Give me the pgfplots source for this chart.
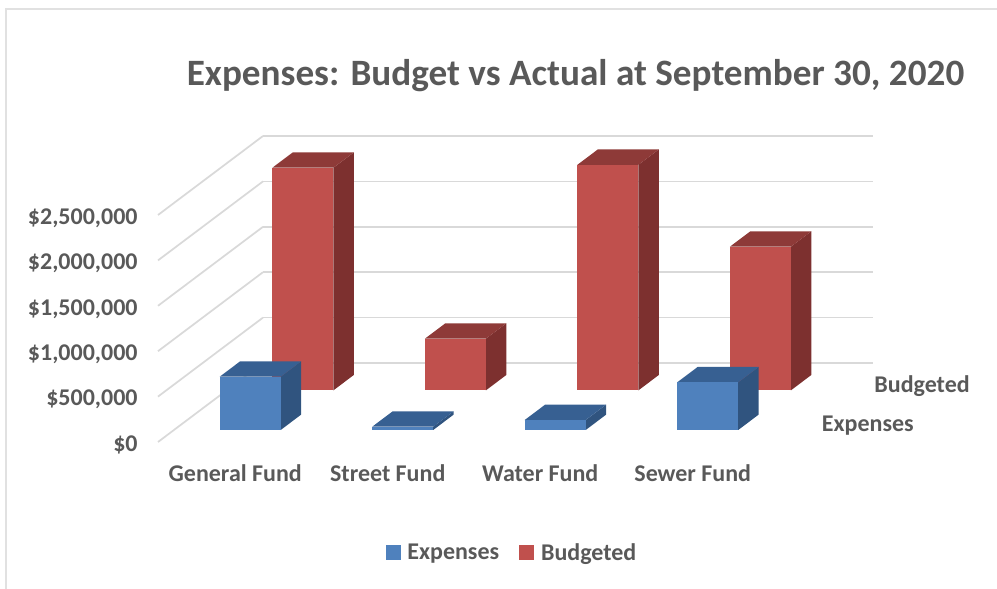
\documentclass[border=0pt]{standalone}
\usepackage{pgfplots}
\pgfplotsset{compat=1.18}
\usepackage{fontspec}
\setmainfont{Carlito}[BoldFont=Carlito Bold]
\definecolor{txt}{HTML}{595959}
\definecolor{gridc}{HTML}{D9D9D9}
\definecolor{bluef}{HTML}{4F81BD}
\definecolor{bluet}{HTML}{376092}
\definecolor{blues}{HTML}{30547F}
\definecolor{redf}{HTML}{C0504D}
\definecolor{redt}{HTML}{8E3A38}
\definecolor{reds}{HTML}{7D302F}
% x0, x1, depth0, depth1, value ($ millions), front, top, side
\newcommand{\threebar}[8]{%
  \addplot3[fill=#8,draw=none,forget plot] coordinates {(#2,#3,0) (#2,#4,0) (#2,#4,#5) (#2,#3,#5)} --cycle;
  \addplot3[fill=#7,draw=none,forget plot] coordinates {(#1,#3,#5) (#2,#3,#5) (#2,#4,#5) (#1,#4,#5)} --cycle;
  \addplot3[fill=#6,draw=none,forget plot] coordinates {(#1,#3,0) (#2,#3,0) (#2,#3,#5) (#1,#3,#5)} --cycle;
}
\begin{document}
\begin{tikzpicture}
\useasboundingbox (0,0) rectangle (747.75pt,441.75pt);
\draw[color=gridc!80!white,line width=1.1pt] (747.75pt,435pt) -- (4.5pt,435pt) -- (4.5pt,0pt);
\begin{axis}[
  at={(118.5pt,110.25pt)}, anchor=origin,
  x={(114.375pt,0pt)}, y={(39.375pt,29.625pt)}, z={(0pt,68.1pt)},
  xmin=0, xmax=4, ymin=0, ymax=2, zmin=0, zmax=2.5,
  clip=false,
  axis line style={draw=none},
  tick style={draw=none},
  major tick length=0pt,
  zmajorgrids=true, xmajorgrids=false, ymajorgrids=false,
  major grid style={draw=gridc,line width=1.3pt},
  xtick={0.5,1.5,2.5,3.5},
  xticklabels={General Fund,Street Fund,Water Fund,Sewer Fund},
  ytick={0.5,1.5},
  yticklabels={Expenses,Budgeted},
  ztick={0,0.5,1,1.5,2,2.5},
  zticklabels={{\$0},{\$500,000},{\$1,000,000},{\$1,500,000},{\$2,000,000},{\$2,500,000}},
  tick label style={font=\fontsize{18}{21}\selectfont\bfseries,text=txt},
  xticklabel style={anchor=center,yshift=-23.25pt,xshift=0.75pt},
  yticklabel style={anchor=west,xshift=17.25pt,yshift=-2.25pt},
  zticklabel style={anchor=east,xshift=-11.75pt,yshift=-2.25pt},
  title={Expenses: Budget vs Actual at September 30, 2020},
  title style={font=\fontsize{27.9}{32}\selectfont\bfseries,text=txt,at={(axis cs:2.738,0,4.064)},anchor=center,yshift=-8.25pt},
  legend columns=2,
  legend cell align=left,
  legend style={draw=none,fill=none,at={(axis cs:2.323,0,-1.222)},anchor=center,
    font=\fontsize{18}{21}\selectfont\bfseries,text=txt,
    /tikz/every even column/.append style={column sep=13pt}},
]
\threebar{0.3}{0.7}{1.308}{1.698}{2.452}{redf}{redt}{reds}
\threebar{0.3}{0.7}{0.304}{0.694}{0.587}{bluef}{bluet}{blues}
\threebar{1.3}{1.7}{1.308}{1.698}{0.569}{redf}{redt}{reds}
\threebar{1.3}{1.7}{0.304}{0.694}{0.036}{bluef}{bluet}{blues}
\threebar{2.3}{2.7}{1.308}{1.698}{2.484}{redf}{redt}{reds}
\threebar{2.3}{2.7}{0.304}{0.694}{0.110}{bluef}{bluet}{blues}
\threebar{3.3}{3.7}{1.308}{1.698}{1.582}{redf}{redt}{reds}
\threebar{3.3}{3.7}{0.304}{0.694}{0.525}{bluef}{bluet}{blues}
\addlegendimage{legend image code/.code={\fill[bluef] (0pt,-5pt) rectangle (10.5pt,5.5pt);\path (14pt,0pt);}}
\addlegendentry{Expenses}
\addlegendimage{legend image code/.code={\fill[redf] (0pt,-5pt) rectangle (10.5pt,5.5pt);\path (14pt,0pt);}}
\addlegendentry{Budgeted}
\end{axis}
\end{tikzpicture}
\end{document}
